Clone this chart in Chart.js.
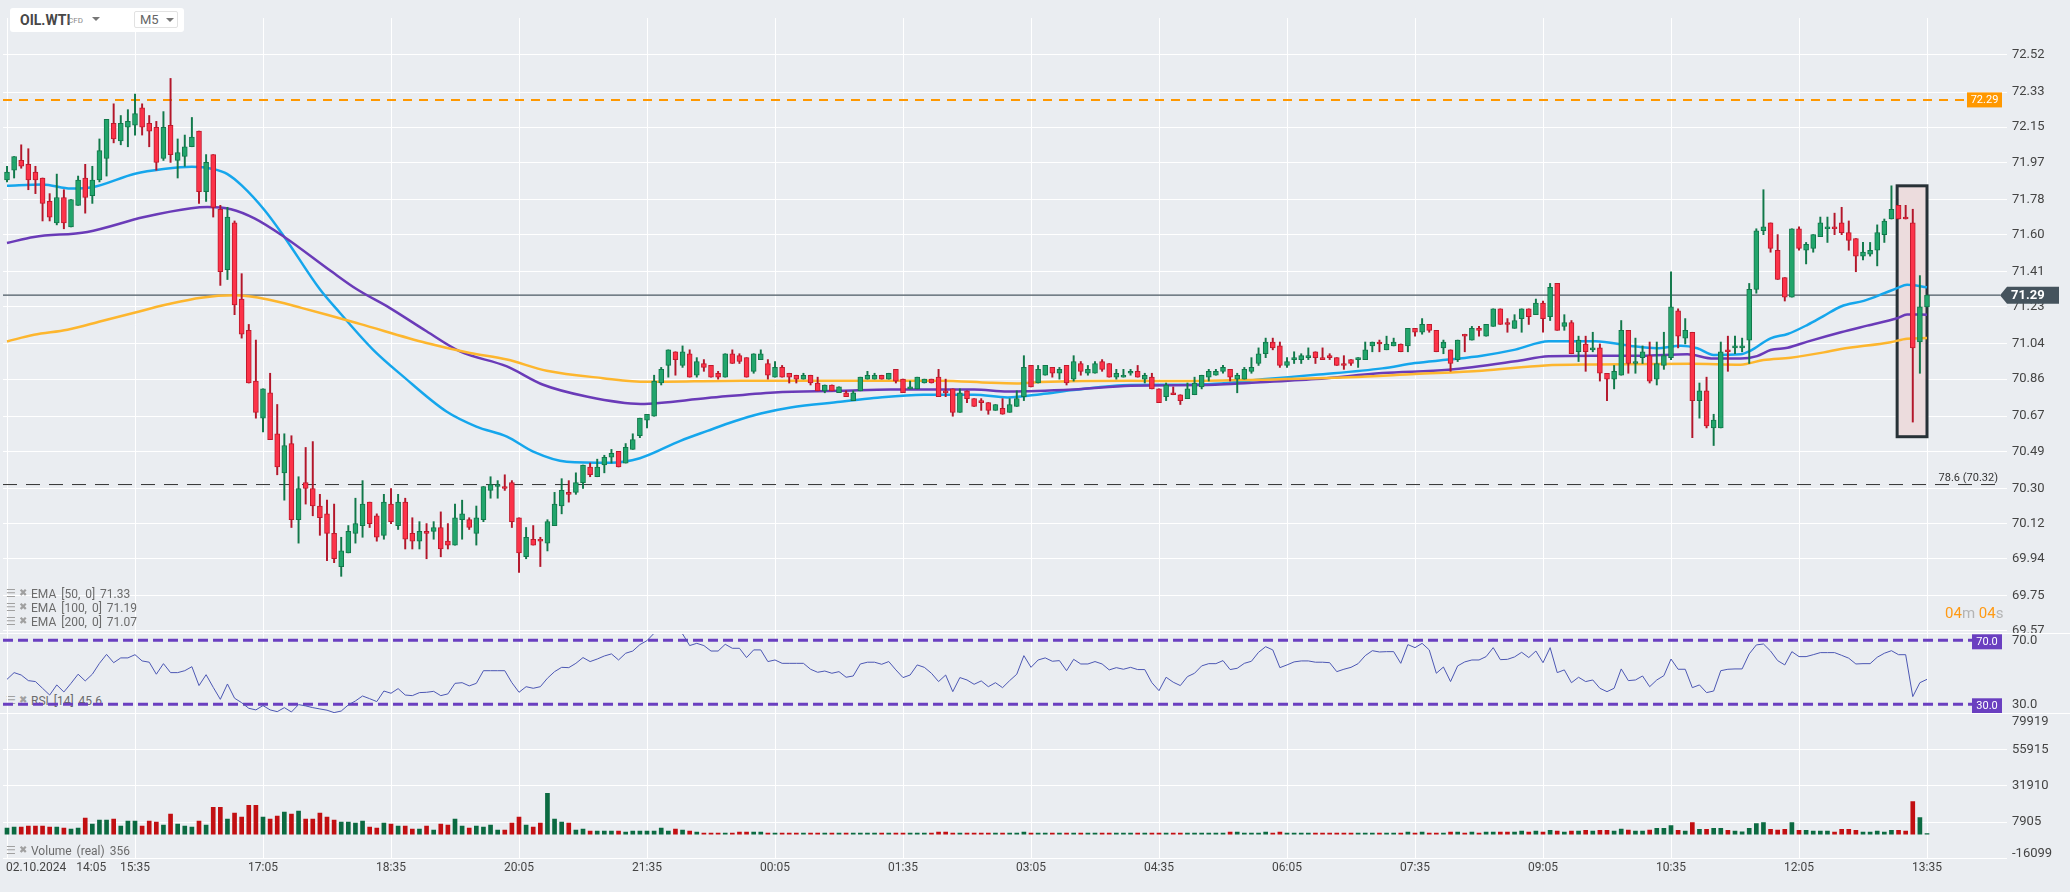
<!DOCTYPE html>
<html>
<head>
<meta charset="utf-8">
<script src="https://cdn.jsdelivr.net/npm/chart.js@4.4.1/dist/chart.umd.min.js"></script>
<style>
  body { margin: 0; background: #eaedf1; font-family: Roboto, "Noto Sans", sans-serif; }
  #wrap { position: relative; width: 2070px; height: 892px; overflow: hidden; }
  canvas { position: absolute; left: 0; z-index: 1; }
  .sep { position: absolute; left: 0; width: 2070px; height: 1px; background: #fff; z-index: 2; }
  .leg { position: absolute; left: 0; height: 14px; font-size: 12px; line-height: 14px; color: #6b6b6b; white-space: pre; z-index: 3; }
  .leg .i1 { position: absolute; left: 6px; top: 0; font: 11px "DejaVu Sans"; color: #a0a0a0; }
  .leg .i2 { position: absolute; left: 19px; top: 0; font: 10px "DejaVu Sans"; color: #a0a0a0; }
  .leg .t { position: absolute; left: 31px; top: 0; word-spacing: 2px; }
  .caret { position: absolute; width: 0; height: 0; border-left: 4px solid transparent; border-right: 4px solid transparent; border-top: 4px solid #777; }
</style>
</head>
<body>
<div id="wrap">
  <div class="leg" style="top:694px;z-index:0"><span class="i1">☰</span><span class="i2">✖</span><span class="t">RSI [14] 45.6</span></div>

  <canvas id="mainChart" width="2070" height="645" style="top:0"></canvas>
  <canvas id="rsiChart" width="2070" height="90" style="top:633px"></canvas>
  <canvas id="volChart" width="2070" height="192" style="top:700px"></canvas>

  <div class="sep" style="top:633px"></div>
  <div class="sep" style="top:713px"></div>

  <div style="position:absolute;left:10px;top:8px;width:174px;height:24px;background:#fff;border-radius:3px;z-index:3">
    <span style="position:absolute;left:10px;top:4px;font:bold 14px Roboto;color:#474747">OIL.WTI</span>
    <span style="position:absolute;left:58px;top:8px;font:8px Roboto;color:#8a8a8a">CFD</span>
    <span class="caret" style="left:82px;top:9px"></span>
    <div style="position:absolute;left:124px;top:3px;width:42px;height:15px;border:1px solid #e2e2e2;border-radius:2px">
      <span style="position:absolute;left:5px;top:0px;font:13px Roboto;color:#666">M5</span>
      <span class="caret" style="left:31px;top:6px"></span>
    </div>
  </div>

  <div class="leg" style="top:587px"><span class="i1">☰</span><span class="i2">✖</span><span class="t">EMA [50, 0] 71.33</span></div>
  <div class="leg" style="top:601px"><span class="i1">☰</span><span class="i2">✖</span><span class="t">EMA [100, 0] 71.19</span></div>
  <div class="leg" style="top:615px"><span class="i1">☰</span><span class="i2">✖</span><span class="t">EMA [200, 0] 71.07</span></div>
  <div class="leg" style="top:844px"><span class="i1">☰</span><span class="i2">✖</span><span class="t">Volume (real) 356</span></div>

  <div style="position:absolute;left:1945px;top:604px;font:15px Roboto;z-index:3"><span style="color:#ff9a14">04</span><span style="color:#b4b4b4">m</span> <span style="color:#ff9a14">04</span><span style="color:#b4b4b4">s</span></div>

  <div style="position:absolute;left:6px;top:860px;font:12px Roboto;color:#444;z-index:3">02.10.2024<span style="margin-left:10px">14:05</span></div>
</div>

<script>
// ---- data (M5 candles, 02.10.2024 14:05 -> 03.10 13:35) ----
const opens = [
  71.88,71.93,71.98,71.96,71.92,71.89,71.77,71.66,71.79,71.64,
  71.75,71.89,71.80,71.88,71.99,72.17,72.08,72.15,72.16,72.25,
  72.17,72.15,71.99,72.16,71.98,72.00,72.05,72.13,71.82,72.01,
  71.73,71.42,71.66,71.27,71.11,70.85,70.66,70.79,70.58,70.38,
  70.53,70.14,70.33,70.30,70.21,70.17,70.07,69.90,69.97,70.07,
  70.11,70.23,70.16,70.06,70.22,70.11,70.23,70.07,70.03,70.08,
  70.08,70.10,70.03,70.01,70.14,70.14,70.07,70.14,70.29,70.31,
  70.31,70.33,70.15,69.95,70.04,70.04,70.02,70.11,70.21,70.28,
  70.28,70.33,70.41,70.36,70.42,70.46,70.49,70.43,70.50,70.57,
  70.65,70.67,70.84,70.93,71.00,70.93,70.99,70.88,70.94,70.93,
  70.89,70.87,70.99,70.98,70.97,70.90,70.96,70.94,70.87,70.92,
  70.89,70.88,70.86,70.88,70.84,70.80,70.83,70.79,70.79,70.75,
  70.80,70.86,70.86,70.88,70.86,70.91,70.86,70.81,70.81,70.84,
  70.86,70.87,70.80,70.81,70.69,70.80,70.76,70.75,70.74,70.70,
  70.71,70.69,70.72,70.77,70.93,70.84,70.88,70.92,70.89,70.93,
  70.86,70.94,70.89,70.89,70.95,70.94,70.87,70.87,70.89,70.90,
  70.86,70.87,70.81,70.77,70.79,70.78,70.76,70.78,70.82,70.87,
  70.88,70.90,70.91,70.86,70.86,70.90,70.94,70.99,71.05,71.03,
  70.93,70.96,70.96,70.97,71.00,70.97,70.98,70.97,70.94,70.96,
  70.96,70.96,71.03,71.05,71.01,71.03,71.04,71.03,71.12,71.10,
  71.14,71.11,71.02,71.01,70.96,71.09,71.06,71.12,71.08,71.13,
  71.22,71.15,71.12,71.17,71.22,71.19,71.25,71.18,71.35,71.13,
  71.15,71.00,71.04,71.01,71.02,70.89,70.86,70.88,71.11,70.94,
  70.97,70.98,70.86,70.93,70.97,71.21,71.07,71.10,70.75,70.80,
  70.61,70.61,71.01,71.02,71.02,71.06,71.32,71.62,71.66,71.52,
  71.38,71.28,71.63,71.52,71.53,71.59,71.63,71.64,71.66,71.61,
  71.58,71.49,71.50,71.52,71.60,71.68,71.75,71.69,71.66,71.05,71.23
];
const highs = [
  71.95,72.00,72.06,72.04,71.95,71.89,71.81,71.91,71.83,71.78,
  71.90,71.96,71.95,72.09,72.19,72.27,72.21,72.24,72.32,72.27,
  72.21,72.18,72.23,72.40,72.09,72.11,72.20,72.13,72.01,72.01,
  71.75,71.74,71.67,71.40,71.14,71.06,70.81,70.89,70.73,70.58,
  70.57,70.36,70.51,70.54,70.27,70.24,70.22,70.05,70.11,70.25,
  70.34,70.23,70.17,70.27,70.30,70.27,70.25,70.15,70.13,70.12,
  70.13,70.18,70.12,70.22,70.24,70.15,70.21,70.31,70.36,70.34,
  70.37,70.34,70.15,70.10,70.11,70.05,70.14,70.28,70.35,70.34,
  70.38,70.42,70.43,70.45,70.47,70.50,70.49,70.53,70.58,70.66,
  70.68,70.88,70.92,71.01,71.00,71.03,71.01,70.97,70.96,70.93,
  70.90,70.99,71.01,70.99,70.97,70.99,71.01,70.96,70.95,70.93,
  70.89,70.88,70.89,70.88,70.87,70.83,70.83,70.82,70.80,70.80,
  70.87,70.90,70.89,70.88,70.89,70.91,70.86,70.85,70.87,70.86,
  70.86,70.91,70.86,70.81,70.81,70.80,70.76,70.76,70.74,70.73,
  70.76,70.76,70.80,70.98,70.93,70.93,70.93,70.92,70.92,70.93,
  70.98,70.95,70.93,70.95,70.96,70.94,70.91,70.91,70.91,70.93,
  70.89,70.89,70.81,70.84,70.82,70.78,70.84,70.87,70.88,70.91,
  70.91,70.93,70.91,70.89,70.92,70.97,71.02,71.07,71.07,71.05,
  70.97,71.00,70.99,71.02,71.00,71.02,70.99,70.97,70.98,70.96,
  70.97,71.05,71.05,71.06,71.08,71.07,71.04,71.12,71.12,71.17,
  71.14,71.11,71.06,71.01,71.06,71.09,71.13,71.13,71.14,71.22,
  71.22,71.17,71.19,71.22,71.22,71.27,71.26,71.35,71.35,71.19,
  71.16,71.08,71.08,71.10,71.04,70.89,70.93,71.16,71.11,71.07,
  71.03,71.05,71.05,71.10,71.41,71.22,71.17,71.10,70.84,70.87,
  70.68,71.05,71.08,71.08,71.07,71.35,71.63,71.83,71.66,71.60,
  71.38,71.63,71.64,71.56,71.60,71.69,71.69,71.71,71.74,71.67,
  71.58,71.56,71.56,71.65,71.68,71.85,71.75,71.75,71.73,71.39,71.29
];
const lows = [
  71.87,71.89,71.94,71.83,71.81,71.67,71.67,71.65,71.63,71.64,
  71.75,71.71,71.76,71.87,71.90,72.07,72.06,72.05,72.11,72.11,
  72.05,71.93,71.98,71.97,71.89,71.95,72.05,71.76,71.77,71.69,
  71.34,71.37,71.19,71.07,70.84,70.66,70.59,70.55,70.37,70.24,
  70.10,70.02,70.22,70.16,70.06,69.93,69.92,69.85,69.97,70.02,
  70.05,70.10,70.03,70.04,70.12,70.09,69.99,69.99,69.99,69.94,
  70.04,69.95,69.99,70.01,70.04,70.09,70.01,70.13,70.25,70.25,
  70.29,70.10,69.87,69.94,70.01,69.90,69.98,70.11,70.17,70.23,
  70.27,70.30,70.36,70.36,70.38,70.43,70.41,70.43,70.50,70.56,
  70.61,70.67,70.83,70.87,70.88,70.92,70.87,70.87,70.90,70.87,
  70.86,70.87,70.94,70.94,70.87,70.89,70.96,70.86,70.87,70.87,
  70.84,70.84,70.86,70.83,70.80,70.79,70.80,70.79,70.77,70.75,
  70.80,70.86,70.86,70.86,70.86,70.84,70.79,70.81,70.81,70.84,
  70.84,70.77,70.77,70.67,70.69,70.74,70.72,70.70,70.68,70.70,
  70.68,70.69,70.72,70.75,70.82,70.84,70.88,70.87,70.86,70.83,
  70.85,70.88,70.88,70.89,70.90,70.87,70.86,70.87,70.88,70.87,
  70.84,70.81,70.74,70.75,70.78,70.73,70.76,70.78,70.81,70.85,
  70.88,70.89,70.85,70.79,70.86,70.89,70.93,70.97,71.01,70.92,
  70.92,70.94,70.94,70.96,70.94,70.96,70.96,70.93,70.91,70.93,
  70.92,70.96,71.00,71.00,71.01,71.03,71.00,71.00,71.08,71.09,
  71.10,71.00,70.99,70.90,70.95,71.00,71.06,71.08,71.08,71.13,
  71.14,71.10,71.12,71.10,71.14,71.19,71.10,71.16,71.11,71.11,
  70.99,70.95,70.90,71.00,70.85,70.75,70.81,70.88,70.89,70.89,
  70.94,70.84,70.83,70.91,70.96,71.02,71.04,70.56,70.66,70.61,
  70.52,70.61,70.90,70.99,71.00,70.94,71.30,71.60,71.51,71.37,
  71.26,71.28,71.52,71.45,71.51,71.59,71.56,71.60,71.60,71.52,
  71.41,71.47,71.49,71.44,71.56,71.68,71.68,71.68,70.64,70.89,71.23
];
const closes = [
  71.92,72.00,71.95,71.88,71.88,71.76,71.69,71.79,71.66,71.78,
  71.88,71.79,71.88,72.03,72.19,72.09,72.17,72.18,72.22,72.15,
  72.13,71.97,72.15,72.01,72.02,72.05,72.10,71.82,71.97,71.74,
  71.41,71.69,71.24,71.09,70.84,70.69,70.81,70.55,70.41,70.52,
  70.14,70.30,70.30,70.21,70.15,70.07,69.94,69.98,70.08,70.12,
  70.22,70.12,70.05,70.23,70.13,70.23,70.04,70.03,70.08,70.07,
  70.10,69.99,70.01,70.15,70.17,70.10,70.15,70.31,70.32,70.32,
  70.30,70.13,69.97,70.05,70.01,70.03,70.13,70.22,70.29,70.27,
  70.33,70.42,70.37,70.41,70.46,70.48,70.41,70.51,70.55,70.66,
  70.68,70.85,70.91,71.01,70.96,71.00,70.87,70.95,70.92,70.87,
  70.87,70.99,70.94,70.95,70.87,70.99,70.99,70.88,70.92,70.87,
  70.87,70.86,70.88,70.84,70.80,70.83,70.80,70.82,70.77,70.79,
  70.87,70.88,70.88,70.86,70.89,70.85,70.79,70.82,70.87,70.86,
  70.84,70.77,70.79,70.69,70.79,70.76,70.72,70.74,70.70,70.73,
  70.68,70.73,70.76,70.92,70.82,70.91,70.93,70.89,70.91,70.84,
  70.95,70.90,70.91,70.94,70.91,70.87,70.89,70.88,70.90,70.87,
  70.88,70.81,70.74,70.83,70.78,70.75,70.81,70.84,70.88,70.90,
  70.90,70.92,70.87,70.88,70.91,70.92,70.99,71.05,71.02,70.93,
  70.95,70.97,70.98,70.98,70.97,70.96,70.97,70.93,70.93,70.94,
  70.97,71.01,71.05,71.04,71.04,71.05,71.00,71.12,71.10,71.14,
  71.11,71.00,71.05,70.94,71.06,71.08,71.12,71.11,71.14,71.22,
  71.14,71.14,71.16,71.22,71.18,71.25,71.17,71.33,71.11,71.15,
  70.99,71.06,71.00,71.02,70.89,70.86,70.90,71.11,70.94,70.95,
  71.00,70.85,70.94,70.98,71.23,71.08,71.11,70.75,70.80,70.62,
  70.65,71.00,71.00,71.03,71.03,71.32,71.62,71.64,71.53,71.37,
  71.28,71.63,71.53,71.55,71.60,71.66,71.64,71.63,71.61,71.57,
  71.49,71.51,71.52,71.61,71.67,71.73,71.68,71.68,71.02,71.23,71.29
];
const volumes = [
  3950,4600,4600,5260,5260,5260,4600,4600,3950,3290,
  3950,10520,6580,9200,9200,9860,5260,8550,8550,5260,
  8550,7890,5920,13150,6580,5260,4600,8550,5920,17750,
  17750,9860,13800,11180,19070,19070,11180,9860,11840,14470,
  13150,15120,9860,9860,13800,11180,9200,7890,7890,7230,
  8550,4600,3950,7230,6580,5260,5260,3290,3290,5260,
  2630,6580,5920,9860,5260,3950,5260,4600,5920,2630,
  2630,7230,11180,5920,4600,7230,26960,9860,7890,7230,
  2630,3290,1970,1970,1970,1970,1970,1315,1970,1970,
  1970,1970,3950,1970,3290,2630,1970,1315,660,660,
  660,660,660,1315,1315,1315,1315,660,660,660,
  660,660,660,660,660,660,660,660,660,660,
  660,660,660,660,660,660,660,660,660,660,
  660,1315,1315,660,660,660,660,660,660,660,
  660,660,660,1315,660,660,660,660,660,660,
  660,660,660,660,660,660,660,660,660,660,
  660,660,660,660,660,660,660,660,660,660,
  660,660,1315,1315,660,660,660,1315,660,1315,
  660,660,660,660,660,660,660,660,660,660,
  660,660,660,660,660,660,660,1315,660,1315,
  660,660,660,1315,1315,660,1315,660,1315,1315,
  1315,1315,1315,1970,1315,1970,1315,2410,1970,1315,
  1970,1970,2410,1970,2410,2410,1970,3290,2630,1970,
  1970,2630,3730,3730,5700,2410,1970,7670,3070,3070,
  3730,3730,2410,1970,1530,3730,7010,7670,3070,2630,
  3070,7670,2410,2410,1970,1970,1970,1315,3070,3070,
  2410,1315,1315,1970,1315,2410,2410,1970,21480,10960,356
];
const rsiValues = [
  45.6,49.8,48.3,44.8,44.2,40.0,35.8,42.1,37.7,43.1,
  48.8,44.6,48.8,55.6,61.2,56.0,59.0,59.0,61.0,57.1,
  56.3,48.8,55.4,49.8,49.8,51.0,53.5,41.7,48.5,40.6,
  33.1,42.7,33.8,31.0,27.5,26.5,29.2,26.5,25.4,27.9,
  25.2,29.8,29.0,27.9,27.1,26.3,24.8,25.8,29.6,32.1,
  35.2,33.5,31.7,38.3,36.9,39.8,35.8,35.4,37.3,37.5,
  38.1,35.4,36.5,43.1,43.5,41.5,43.1,51.0,51.0,51.0,
  51.0,43.5,37.5,41.0,40.0,41.0,46.3,50.4,53.1,52.9,
  55.6,59.2,56.7,58.3,60.2,61.5,57.7,61.9,63.3,67.3,
  69.8,74.4,78.0,80.0,76.0,74.0,66.7,68.1,66.7,63.3,
  63.3,67.5,65.0,65.0,59.2,64.0,64.0,56.7,57.7,55.6,
  55.6,55.6,55.6,51.9,50.0,50.8,49.4,50.4,46.9,47.7,
  55.2,56.3,56.3,55.0,56.7,51.5,46.7,48.3,54.6,53.1,
  49.4,44.2,48.3,37.9,46.7,45.2,42.5,44.6,41.0,43.5,
  40.4,44.8,48.8,60.4,53.1,57.7,59.0,56.9,57.3,51.0,
  58.1,55.2,55.2,56.7,55.2,51.5,52.9,51.9,53.1,51.7,
  51.7,43.5,38.5,46.9,43.8,41.7,47.3,49.4,54.0,55.4,
  55.4,57.3,51.7,52.5,55.6,56.9,62.5,66.0,64.0,52.9,
  54.6,56.5,57.1,57.1,56.3,56.3,56.0,50.4,51.9,53.1,
  55.4,60.4,63.5,62.7,62.9,62.9,55.6,67.3,65.4,68.1,
  64.0,49.4,53.3,44.2,54.0,56.5,57.7,57.7,59.8,65.4,
  57.9,58.1,59.6,62.5,59.2,63.3,56.0,65.4,49.8,51.5,
  43.5,46.9,44.2,45.2,40.0,37.9,40.0,52.1,44.8,45.2,
  47.7,41.0,45.2,47.9,58.3,51.9,51.9,40.4,42.1,37.3,
  38.3,51.0,51.9,52.1,52.1,61.5,67.1,67.7,63.3,57.3,
  54.6,62.9,59.8,59.8,61.0,62.3,62.3,62.3,60.6,58.8,
  55.2,55.4,55.4,59.4,61.9,63.5,61.0,61.0,34.8,43.5,45.6
];
// moving averages: [candle index, value]
const ema50Pts = [[0,71.85],[5,71.857],[9,71.836],[12,71.843],[18,71.912],[22,71.936],[26,71.948],[29,71.936],[31,71.91],[33,71.852],[36.2,71.726],[39,71.588],[44,71.32],[46.8,71.2],[51.5,71.01],[55.7,70.874],[61.8,70.694],[66,70.617],[70.3,70.566],[74,70.489],[78.7,70.437],[84.8,70.432],[89,70.455],[94.7,70.544],[98.5,70.595],[102.2,70.643],[106,70.684],[110.2,70.715],[117.2,70.744],[121.9,70.763],[128.9,70.78],[136,70.78],[140.7,70.766],[145.4,70.783],[150,70.804],[158,70.83],[165.2,70.831],[169.9,70.836],[177,70.86],[184,70.882],[193.4,70.915],[198,70.942],[202.7,70.96],[207.4,70.98],[212.1,71.011],[216.8,71.054],[223.4,71.054],[228.3,71.03],[232,71.018],[235.4,71.031],[237.7,71.018],[240,70.984],[243.8,70.987],[245.2,71.006],[248,71.069],[250.4,71.091],[253.2,71.138],[255.5,71.184],[257.9,71.232],[261.1,71.261],[264,71.3],[265.8,71.326],[267.2,71.343],[270,71.33]];
const ema100Pts = [[0,71.557],[3.8,71.588],[11.3,71.614],[19.3,71.69],[25.9,71.735],[28.2,71.741],[31.5,71.73],[34.8,71.683],[39,71.588],[45.6,71.412],[49.2,71.32],[53.8,71.225],[59,71.105],[63.7,71.002],[70.3,70.925],[75.4,70.831],[81.5,70.771],[89.1,70.733],[98.5,70.763],[107.9,70.792],[117.2,70.8],[124.3,70.807],[136,70.807],[140.7,70.797],[150,70.807],[158,70.826],[169.9,70.831],[174.6,70.84],[184,70.86],[193.4,70.891],[202.7,70.908],[212.1,70.951],[216.8,70.977],[223,70.98],[229.7,70.98],[236.3,70.987],[240,70.965],[243.8,70.965],[246.1,70.978],[248,71.009],[250.4,71.021],[253.2,71.052],[257.9,71.1],[261.6,71.134],[265.8,71.172],[267.2,71.191],[270,71.19]];
const ema200Pts = [[0,71.053],[3.8,71.087],[8.5,71.113],[13.2,71.156],[17.9,71.2],[22.6,71.243],[27.3,71.277],[32,71.289],[36.7,71.268],[41.4,71.225],[45,71.19],[49.6,71.143],[59,71.045],[65.1,70.994],[70.3,70.96],[75.9,70.903],[83.8,70.865],[90,70.846],[103.2,70.852],[117.2,70.852],[131.3,70.852],[138.3,70.841],[142,70.838],[145.4,70.845],[158,70.852],[165.2,70.85],[176,70.857],[188.7,70.869],[198,70.886],[207.4,70.903],[216.3,70.93],[223.4,70.935],[236.8,70.939],[243.8,70.934],[247,70.958],[250.8,70.97],[255.5,70.997],[257.9,71.014],[264.9,71.049],[267.2,71.067],[270,71.07]];

// axis tick labels
const priceTicks = ["72.52","72.33","72.15","71.97","71.78","71.60","71.41","71.23","71.04","70.86","70.67","70.49","70.30","70.12","69.94","69.75","69.57"];
const rsiTicks = ["70.0","30.0"];
const volTicks = ["79919","55915","31910","7905","-16099"];
const tickIdx = [0,18,36,54,72,90,108,126,144,162,180,198,216,234,252,270];
const timeLabels = ["14:05","15:35","17:05","18:35","20:05","21:35","00:05","01:35","03:05","04:35","06:05","07:35","09:05","10:35","12:05","13:35"];

// levels and marked area
const resistLevel = 72.29;
const fibLevel = 70.32, fibText = "78.6 (70.32)";
const lastPrice = 71.29;
const rsiUpper = 70, rsiLower = 30;
const markFrom = 265.8, markTo = 270, markTop = 71.85, markBottom = 70.565;

// ---- layout ----
const X_MIN = -0.5625, X_MAX = 281.25;
const AXIS_W = 63;

Chart.defaults.font.family = 'Roboto';
Chart.defaults.color = '#444';

const isUp = opens.map((o, i) => closes[i] >= o);
const bodyFill = isUp.map(u => u ? '#22a56c' : '#fc3349');
const bodyLine = isUp.map(u => u ? '#11784a' : '#bf1a2c');
const wickCol = isUp.map(u => u ? '#11784a' : '#b3162a');
const volCol = isUp.map(u => u ? '#0b6a41' : '#c20f12');

function xAxis(withLabels) {
  return {
    type: 'linear', min: X_MIN, max: X_MAX, offset: false,
    grid: { color: '#ffffff', lineWidth: 1, drawTicks: false, offset: false },
    border: { display: false },
    ticks: {
      display: withLabels, autoSkip: false, maxRotation: 0, padding: 2,
      color: '#444', font: { size: 12 },
      callback: (v, i) => (i > 0 ? timeLabels[i] : '')
    },
    afterBuildTicks: s => { s.ticks = tickIdx.map(v => ({ value: v })); },
    afterFit: s => { s.height = withLabels ? 33.5 : 0; s.paddingLeft = 0; s.paddingRight = 0; }
  };
}

function yAxis(min, max, labels, showGrid, showLabels) {
  return {
    position: 'right', min: min, max: max,
    grid: { display: showGrid, color: '#ffffff', lineWidth: 1, drawTicks: false },
    border: { display: false },
    ticks: { display: showLabels, autoSkip: false, padding: 5, color: '#444', font: { size: 13 }, callback: (v, i) => labels[i] },
    afterBuildTicks: s => { s.ticks = labels.map(t => ({ value: parseFloat(t) })); },
    afterFit: s => { s.width = AXIS_W; s.paddingTop = 0; s.paddingBottom = 0; }
  };
}

function hline(ctx, y, x0, x1, color, width, dash) {
  ctx.save();
  ctx.beginPath();
  ctx.strokeStyle = color;
  ctx.lineWidth = width;
  ctx.setLineDash(dash);
  ctx.moveTo(x0, y);
  ctx.lineTo(x1, y);
  ctx.stroke();
  ctx.restore();
}

function emaSet(pts, color) {
  return {
    type: 'line', data: pts.map(p => ({ x: p[0], y: p[1] })),
    borderColor: color, borderWidth: 2.5, pointRadius: 0,
    cubicInterpolationMode: 'monotone', order: 2
  };
}

const mainOverlay = {
  id: 'mainOverlay',
  beforeDatasetsDraw(chart) {
    const { ctx, chartArea: a, scales: { x, y } } = chart;
    hline(ctx, y.getPixelForValue(resistLevel), a.left, a.right - 40, '#ff9800', 2, [9, 7]);
    hline(ctx, y.getPixelForValue(fibLevel), a.left, a.right - 12, '#333', 1, [14, 9]);
    hline(ctx, y.getPixelForValue(lastPrice), a.left, a.right - 7, '#4b5863', 1.2, []);
    const bx0 = x.getPixelForValue(markFrom), bx1 = x.getPixelForValue(markTo);
    const by0 = y.getPixelForValue(markTop), by1 = y.getPixelForValue(markBottom);
    ctx.save();
    ctx.fillStyle = '#ecdcdd';
    ctx.fillRect(bx0, by0, bx1 - bx0, by1 - by0);
    ctx.strokeStyle = '#273136';
    ctx.lineWidth = 3;
    ctx.strokeRect(bx0, by0, bx1 - bx0, by1 - by0);
    ctx.restore();
  },
  afterDraw(chart) {
    const { ctx, chartArea: a, scales: { y } } = chart;
    ctx.save();
    // resistance tag
    let py = y.getPixelForValue(resistLevel);
    ctx.fillStyle = '#ff9800';
    ctx.fillRect(a.right - 40, py - 7.5, 35, 15);
    ctx.fillStyle = '#fff';
    ctx.font = '11px Roboto';
    ctx.textAlign = 'center';
    ctx.textBaseline = 'middle';
    ctx.fillText(resistLevel.toFixed(2), a.right - 22.5, py + 0.5);
    // fib text
    py = y.getPixelForValue(fibLevel);
    ctx.fillStyle = '#333';
    ctx.textAlign = 'right';
    ctx.textBaseline = 'alphabetic';
    ctx.fillText(fibText, a.right - 9, py - 4);
    // last price tag
    py = y.getPixelForValue(lastPrice);
    const tip = a.right - 7;
    ctx.fillStyle = '#45535d';
    ctx.beginPath();
    ctx.moveTo(tip, py);
    ctx.lineTo(tip + 7, py - 8.5);
    ctx.lineTo(a.right + 52, py - 8.5);
    ctx.lineTo(a.right + 52, py + 8.5);
    ctx.lineTo(tip + 7, py + 8.5);
    ctx.closePath();
    ctx.fill();
    ctx.fillStyle = '#fff';
    ctx.font = 'bold 13px Roboto';
    ctx.textAlign = 'left';
    ctx.textBaseline = 'middle';
    ctx.fillText(lastPrice.toFixed(2), a.right + 4, py + 1);
    ctx.restore();
  }
};

new Chart(document.getElementById('mainChart'), {
  type: 'bar',
  data: {
    datasets: [
      emaSet(ema200Pts, '#fdb62e'),
      emaSet(ema100Pts, '#6a3bb8'),
      emaSet(ema50Pts, '#15a6ec'),
      {
        type: 'bar', data: lows.map((l, i) => ({ x: i, y: [l, highs[i]] })),
        backgroundColor: wickCol, barThickness: 1.3, grouped: false, order: 1
      },
      {
        type: 'bar', data: opens.map((o, i) => ({ x: i, y: [o, closes[i]] })),
        backgroundColor: bodyFill, borderColor: bodyLine, borderWidth: 1,
        borderSkipped: false, barThickness: 5, minBarLength: 1, grouped: false, order: 0
      }
    ]
  },
  options: {
    responsive: false, animation: false, devicePixelRatio: 1,
    layout: { padding: { left: 3, top: 18, right: 0, bottom: 12 } },
    plugins: { legend: { display: false }, tooltip: { enabled: false } },
    scales: { x: xAxis(false), y: yAxis(69.5597, 72.7095, priceTicks, true, true) }
  },
  plugins: [mainOverlay]
});

const rsiOverlay = {
  id: 'rsiOverlay',
  beforeDatasetsDraw(chart) {
    const { ctx, chartArea: a, scales: { y } } = chart;
    [rsiUpper, rsiLower].forEach(v => {
      hline(ctx, y.getPixelForValue(v), a.left, a.right - 35, '#6a3fc0', 3, [10, 5]);
    });
  },
  afterDraw(chart) {
    const { ctx, chartArea: a, scales: { y } } = chart;
    ctx.save();
    ctx.font = '11px Roboto';
    ctx.textAlign = 'center';
    ctx.textBaseline = 'middle';
    [rsiUpper, rsiLower].forEach(v => {
      const py = y.getPixelForValue(v) + 1.5;
      ctx.fillStyle = '#6a3fc0';
      ctx.fillRect(a.right - 35, py - 7.5, 30, 15);
      ctx.fillStyle = '#fff';
      ctx.fillText(v.toFixed(1), a.right - 20, py + 0.5);
    });
    ctx.restore();
  }
};

new Chart(document.getElementById('rsiChart'), {
  type: 'line',
  data: {
    datasets: [{
      data: rsiValues.map((v, i) => ({ x: i, y: v })),
      borderColor: '#4c57b3', borderWidth: 1, pointRadius: 0, tension: 0
    }]
  },
  options: {
    responsive: false, animation: false, devicePixelRatio: 1,
    layout: { padding: { left: 3, top: 0, right: 0, bottom: 10 } },
    plugins: { legend: { display: false }, tooltip: { enabled: false } },
    scales: { x: xAxis(false), y: yAxis(24.56, 74.56, rsiTicks, false, true) }
  },
  plugins: [rsiOverlay]
});

// volume axis labels are kept inside the pane, like the original platform does
const volLabels = {
  id: 'volLabels',
  afterDraw(chart) {
    const { ctx, chartArea: a, scales: { y } } = chart;
    ctx.save();
    ctx.font = '13px Roboto';
    ctx.fillStyle = '#444';
    ctx.textAlign = 'left';
    ctx.textBaseline = 'middle';
    volTicks.forEach(t => {
      const py = Math.min(a.bottom - 4.5, Math.max(a.top + 8.5, y.getPixelForValue(parseFloat(t))));
      ctx.fillText(t, a.right + 5, py);
    });
    ctx.restore();
  }
};

new Chart(document.getElementById('volChart'), {
  type: 'bar',
  data: {
    datasets: [{
      data: volumes.map((v, i) => ({ x: i, y: v })),
      backgroundColor: volCol, barThickness: 4, grouped: false
    }]
  },
  options: {
    responsive: false, animation: false, devicePixelRatio: 1,
    layout: { padding: { left: 3, top: 13, right: 0, bottom: 0 } },
    plugins: { legend: { display: false }, tooltip: { enabled: false } },
    scales: { x: xAxis(true), y: yAxis(-16099, 79919, volTicks, true, false) }
  },
  plugins: [volLabels]
});
</script>
</body>
</html>
